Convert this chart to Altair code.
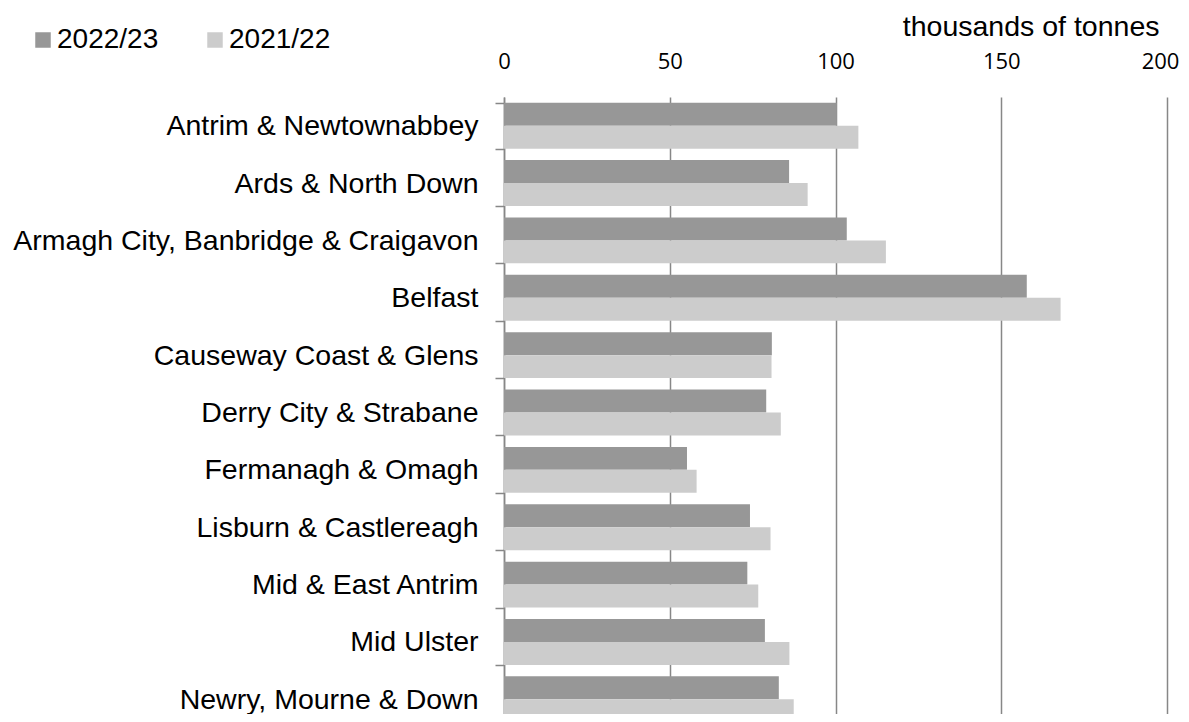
import altair as alt
import pandas as pd

categories = [
    "Antrim & Newtownabbey",
    "Ards & North Down",
    "Armagh City, Banbridge & Craigavon",
    "Belfast",
    "Causeway Coast & Glens",
    "Derry City & Strabane",
    "Fermanagh & Omagh",
    "Lisburn & Castlereagh",
    "Mid & East Antrim",
    "Mid Ulster",
    "Newry, Mourne & Down",
]
years = ["2022/23", "2021/22"]
v_2022_23 = [100.4, 86.0, 103.4, 157.7, 80.8, 79.1, 55.2, 74.2, 73.4, 78.7, 82.9]
v_2021_22 = [106.9, 91.6, 115.2, 167.9, 80.7, 83.5, 58.1, 80.4, 76.7, 86.1, 87.4]
x_ticks = [0, 50, 100, 150, 200]

rows = []
for c, a, b in zip(categories, v_2022_23, v_2021_22):
    rows.append({"area": c, "year": years[0], "value": a})
    rows.append({"area": c, "year": years[1], "value": b})
df = pd.DataFrame(rows)

chart = (
    alt.Chart(df)
    .mark_bar()
    .encode(
        x=alt.X(
            "value:Q",
            scale=alt.Scale(domain=[0, 200], nice=False),
            axis=alt.Axis(
                orient="top",
                values=x_ticks,
                grid=True,
                gridColor="#878787",
                gridWidth=1.5,
                domain=False,
                ticks=False,
                labelFlush=False,
                labelOffset={"condition": {"test": "datum.value == 200", "value": -7}, "value": 0},
                labelFont="Open Sans",
                labelFontSize=22,
                labelColor="#000000",
                labelPadding=24,
                title="thousands of tonnes",
                titleFont="Liberation Sans",
                titleFontSize=28.5,
                titleFontWeight="normal",
                titleColor="#000000",
                titleAlign="right",
                titleBaseline="alphabetic",
                titleX=655,
                titleY=-62,
            ),
        ),
        y=alt.Y(
            "area:N",
            sort=categories,
            scale=alt.Scale(range=[0, 631], paddingInner=0.2, paddingOuter=0.1),
            axis=alt.Axis(
                title=None,
                grid=False,
                tickBand="extent",
                tickSize=9,
                tickColor="#878787",
                tickWidth=1.5,
                domainColor="#878787",
                domainWidth=1.5,
                labelFont="Liberation Sans",
                labelFontSize=28.5,
                labelColor="#000000",
                labelPadding=17,
                labelLimit=800,
            ),
        ),
        yOffset=alt.YOffset("year:N", sort=years),
        color=alt.Color(
            "year:N",
            sort=years,
            scale=alt.Scale(domain=years, range=["#979797", "#cccccc"]),
            legend=alt.Legend(
                title=None,
                orient="none",
                direction="horizontal",
                legendX=-475,
                legendY=-71,
                symbolType="square",
                symbolSize=240,
                symbolStrokeWidth=0,
                labelFont="Liberation Sans",
                labelFontSize=28,
                labelColor="#000000",
                labelOffset=0,
                columnPadding=42,
                padding=0,
            ),
        ),
    )
    .properties(
        width=663,
        height=617,
        autosize=alt.AutoSizeParams(type="none"),
        padding={"left": 496, "top": 89, "right": 14, "bottom": 0},
    )
    .configure_view(stroke=None)
)

chart.save("out.html", embed_options={"renderer": "svg", "actions": False})
